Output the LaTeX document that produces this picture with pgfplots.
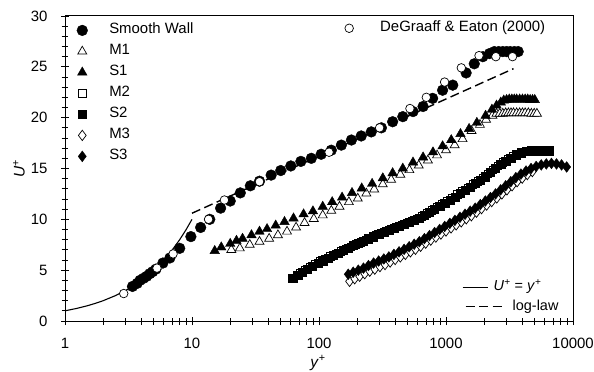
\documentclass[border=0pt]{standalone}
\usepackage{pgfplots}
\pgfplotsset{compat=1.18}
\usepackage{fontspec}
\setmainfont{Liberation Sans}
\begin{document}
\begin{tikzpicture}
% U+ = y+
\begin{axis}[width=508bp,height=305bp,scale only axis,
  xmode=log,xmin=1,xmax=10000,ymin=0,ymax=30,hide axis,
  legend style={draw=none,fill=none,inner sep=0pt,
      font=\fontsize{14.5}{16}\selectfont,
      nodes={inner sep=0pt,text height=11bp,text depth=4bp},
      at={(0.7815,0.111)},anchor=west},
  legend cell align=left,
  legend image code/.code={\draw[#1] (0pt,0pt) -- (25bp,0pt); \path[draw=none,fill=none] (0pt,0pt) -- (31bp,0pt);}]
\addplot[black,line width=1.1pt] coordinates {(1,1)(1.25,1.25)(1.5,1.5)(1.75,1.75)(2,2)(2.5,2.5)(3,3)(3.5,3.5)(4,4)(4.5,4.5)(5,5)(6,6)(7,7)(8,8)(9,9)(10,10)};
\addlegendentry{\textit{U}\textsuperscript{+} = \textit{y}\textsuperscript{+}}
\end{axis}
% log-law
\begin{axis}[width=508bp,height=305bp,scale only axis,
  xmode=log,xmin=1,xmax=10000,ymin=0,ymax=30,hide axis,
  legend style={draw=none,fill=none,inner sep=0pt,
      font=\fontsize{14.5}{16}\selectfont,
      nodes={inner sep=0pt,text height=11bp,text depth=4bp},
      at={(0.787,0.047)},anchor=west},
  legend cell align=left,
  legend image code/.code={\draw[#1] (0pt,0pt) -- (38bp,0pt); \path[draw=none,fill=none] (0pt,0pt) -- (47bp,0pt);}]
\addplot[black,line width=1.4pt,dash pattern=on 9bp off 4.5bp] coordinates {(10,10.6)(3400,24.82)};
\addlegendentry{log-law}
\end{axis}
% main
\begin{axis}[name=main,width=508bp,height=305bp,scale only axis,
  xmode=log,xmin=1,xmax=10000,ymin=0,ymax=30,
  legend style={draw=none,fill=none,inner sep=0pt,
      font=\fontsize{15}{17}\selectfont,
      nodes={inner sep=0pt,text height=11bp,text depth=4bp},row sep=6bp,
      at={(0.01,0.978)},anchor=north west},
  legend cell align=left,
  legend image code/.code={\path[draw=none,fill=none] (0pt,0pt) -- (39bp,0pt); \draw[#1] plot coordinates {(12bp,0pt)};},
  xtick={1,10,100,1000,10000},xticklabels={1,10,100,1000,10000},
  ytick={0,5,...,30},minor y tick num=4,
  tick pos=left,tick align=center,
  major tick length=8bp,minor tick length=7bp,
  every tick/.style={black,line width=0.8pt},
  axis line style={line width=1pt},
  tick label style={font=\fontsize{15}{17}\selectfont},
  xticklabel style={yshift=-10bp},
  yticklabel style={xshift=-10bp},
  /pgf/number format/assume math mode=true,
  every axis x label/.style={at={(rel axis cs:0.498,0)},yshift=-42bp,anchor=center},
  every axis y label/.style={at={(rel axis cs:0,0.5)},xshift=-46bp,rotate=90,anchor=center},
  xlabel={\textit{y}\textsuperscript{+}},ylabel={\textit{U}\textsuperscript{+}},
  label style={font=\fontsize{15.5}{17}\selectfont}]
\addplot[only marks,mark=*,mark size=5.4pt,black] coordinates {
(3.4,3.4)(3.7,3.7)(3.9,4.0)(4.15,4.2)(4.4,4.4)(4.65,4.65)(4.9,4.85)(5.2,5.1)(5.9,5.7)(6.7,6.2)(8.0,7.15)(9.8,8.3)(11.7,9.2)(13.8,10.0)(16.8,11.1)(20,11.8)(24,12.6)(28.8,13.3)(34,13.75)(42,14.35)(50,14.8)(60,15.25)(72,15.7)(87,16.0)(104,16.4)(125,16.8)(150,17.3)(180,17.8)(215,18.2)(258,18.6)(310,19.0)(380,19.6)(457,20.1)(550,20.6)(660,21.1)(785,21.9)(940,22.7)(1130,23.2)(1440,24.4)(1670,25.3)(1950,26.0)(2200,26.3)(2400,26.5)(2600,26.5)(2800,26.5)(3000,26.5)(3200,26.5)(3450,26.5)(3700,26.5)};
\addlegendentry{Smooth Wall}
\addplot[only marks,mark=triangle*,mark size=5.2pt,black,line width=0.7pt,mark options={fill=white}] coordinates {
(20.4,7.0)(23.8,7.15)(28.5,7.5)(34,7.8)(40.5,8.1)(47.5,8.45)(56,8.8)(66,9.2)(77,9.65)(91,10.05)(107,10.4)(125,10.85)(145,11.25)(172,11.7)(202,12.05)(236,12.55)(272,12.95)(318,13.45)(370,13.9)(437,14.4)(515,14.85)(610,15.3)(720,15.8)(850,16.3)(1000,16.8)(1170,17.3)(1350,17.9)(1590,18.7)(1850,19.3)(2070,19.8)(2320,20.2)(2500,20.4)(2650,20.4)(2800,20.4)(2950,20.45)(3100,20.45)(3250,20.45)(3400,20.45)(3600,20.45)(3800,20.45)(4000,20.45)(4200,20.45)(4450,20.45)(4700,20.4)(4950,20.4)(5200,20.4)};
\addlegendentry{M1}
\addplot[only marks,mark=triangle*,mark size=5.5pt,black] coordinates {
(15.1,6.9)(17,7.25)(20,7.6)(22.4,7.9)(25,8.1)(29.4,8.45)(34,8.8)(39,9.05)(45.6,9.4)(53.5,9.75)(63,10.1)(75.6,10.5)(89.6,10.8)(107,11.25)(127,11.7)(152,12.15)(182,12.6)(217,13.05)(262,13.5)(318,14.05)(380,14.55)(457,15.0)(550,15.6)(660,16.1)(790,16.6)(940,17.2)(1100,17.8)(1300,18.4)(1520,18.9)(1750,19.5)(2050,20.2)(2300,20.8)(2500,21.2)(2700,21.5)(2850,21.7)(3000,21.75)(3150,21.8)(3300,21.8)(3450,21.8)(3600,21.8)(3800,21.8)(4000,21.8)(4200,21.8)(4400,21.8)(4600,21.75)(4800,21.75)(5000,21.75)};
\addlegendentry{S1}
\addplot[only marks,mark=square*,mark size=3.7pt,black,line width=0.7pt,mark options={fill=white}] coordinates {
(71,4.75)(78,5.05)(85,5.35)(93,5.6)(102,5.85)(112,6.1)(123,6.35)(135,6.6)(148,6.85)(162,7.1)(178,7.3)(195,7.55)(214,7.75)(234,8.0)(257,8.2)(282,8.45)(309,8.65)(339,8.85)(372,9.05)(407,9.25)(447,9.45)(490,9.65)(537,9.85)(589,10.05)(646,10.3)(708,10.6)(776,10.9)(851,11.2)(933,11.5)(1023,11.8)(1122,12.1)(1230,12.45)(1349,12.8)(1479,13.1)(1622,13.45)(1778,13.75)(1950,14.1)(2138,14.45)(2344,14.85)(2570,15.25)(2818,15.6)(3090,15.95)(3388,16.25)};
\addlegendentry{M2}
\addplot[only marks,mark=square*,mark size=4.1pt,black] coordinates {
(62,4.2)(68,4.5)(74,4.8)(81,5.1)(89,5.4)(98,5.67)(107,5.93)(118,6.2)(129,6.45)(141,6.7)(155,6.95)(170,7.2)(186,7.42)(204,7.65)(224,7.87)(245,8.1)(269,8.3)(295,8.52)(324,8.75)(355,8.95)(389,9.15)(427,9.35)(468,9.55)(513,9.75)(562,9.95)(617,10.15)(676,10.4)(741,10.7)(813,11.0)(891,11.3)(977,11.6)(1072,11.9)(1175,12.2)(1288,12.55)(1413,12.9)(1549,13.2)(1698,13.55)(1862,13.85)(2042,14.2)(2239,14.6)(2455,15.0)(2692,15.4)(2951,15.75)(3236,16.05)(3548,16.35)(3890,16.55)(4266,16.7)(4677,16.75)(5129,16.75)(5623,16.75)(6166,16.75)(6457,16.75)};
\addlegendentry{S2}
\addplot[only marks,mark=diamond*,mark size=5.2pt,black,line width=0.7pt,mark options={fill=white}] coordinates {
(174,3.9)(191,4.15)(209,4.4)(229,4.65)(251,4.9)(275,5.1)(302,5.35)(331,5.55)(363,5.8)(398,6.05)(437,6.3)(479,6.55)(525,6.8)(575,7.05)(631,7.35)(692,7.65)(759,7.95)(832,8.25)(912,8.55)(1000,8.85)(1096,9.15)(1202,9.45)(1318,9.75)(1445,10.05)(1585,10.35)(1738,10.7)(1905,11.05)(2089,11.4)(2291,11.75)(2512,12.1)(2754,12.5)(3020,12.9)(3311,13.3)(3631,13.7)(3981,14.05)(4365,14.4)(4786,14.7)};
\addlegendentry{M3}
\addplot[only marks,mark=diamond*,mark size=5.4pt,black] coordinates {
(170,4.6)(186,4.8)(204,5.0)(224,5.2)(245,5.45)(269,5.7)(295,5.9)(324,6.1)(355,6.3)(389,6.55)(427,6.8)(468,7.05)(513,7.3)(562,7.55)(617,7.8)(676,8.1)(741,8.4)(813,8.7)(891,9.0)(977,9.3)(1072,9.6)(1175,9.9)(1288,10.2)(1413,10.5)(1549,10.8)(1698,11.1)(1862,11.45)(2042,11.8)(2239,12.15)(2455,12.5)(2692,12.9)(2951,13.3)(3236,13.7)(3548,14.1)(3890,14.45)(4266,14.75)(4677,15.0)(5129,15.2)(5623,15.35)(6166,15.45)(6761,15.5)(7413,15.45)(8128,15.35)(8913,15.15)};
\addlegendentry{S3}
\end{axis}
% DeGraaff
\begin{axis}[width=508bp,height=305bp,scale only axis,
  xmode=log,xmin=1,xmax=10000,ymin=0,ymax=30,hide axis,
  legend style={draw=none,fill=none,inner sep=0pt,
      font=\fontsize{15}{17}\selectfont,
      nodes={inner sep=0pt,text height=11bp,text depth=4bp},
      at={(0.5354,0.985)},anchor=north west},
  legend cell align=left,
  legend image code/.code={\path[draw=none,fill=none] (0pt,0pt) -- (43bp,0pt); \draw[#1] plot coordinates {(12bp,0pt)};}]
\addplot[only marks,mark=*,mark size=4.3pt,black,line width=0.7pt,mark options={fill=white}] coordinates {
(2.9,2.7)(5.3,5.2)(7.1,6.6)(13.5,10.0)(18,11.9)(34,13.7)(120,16.6)(300,19.0)(520,20.9)(700,22.0)(975,23.5)(1320,24.9)(1820,26.1)(2470,26.0)(3340,26.0)};
\addlegendentry{DeGraaff \& Eaton (2000)}
\end{axis}
\pgfresetboundingbox
\path (main.south west) ++(-65bp,-51bp) rectangle ++(594bp,372bp);
\end{tikzpicture}
\end{document}
